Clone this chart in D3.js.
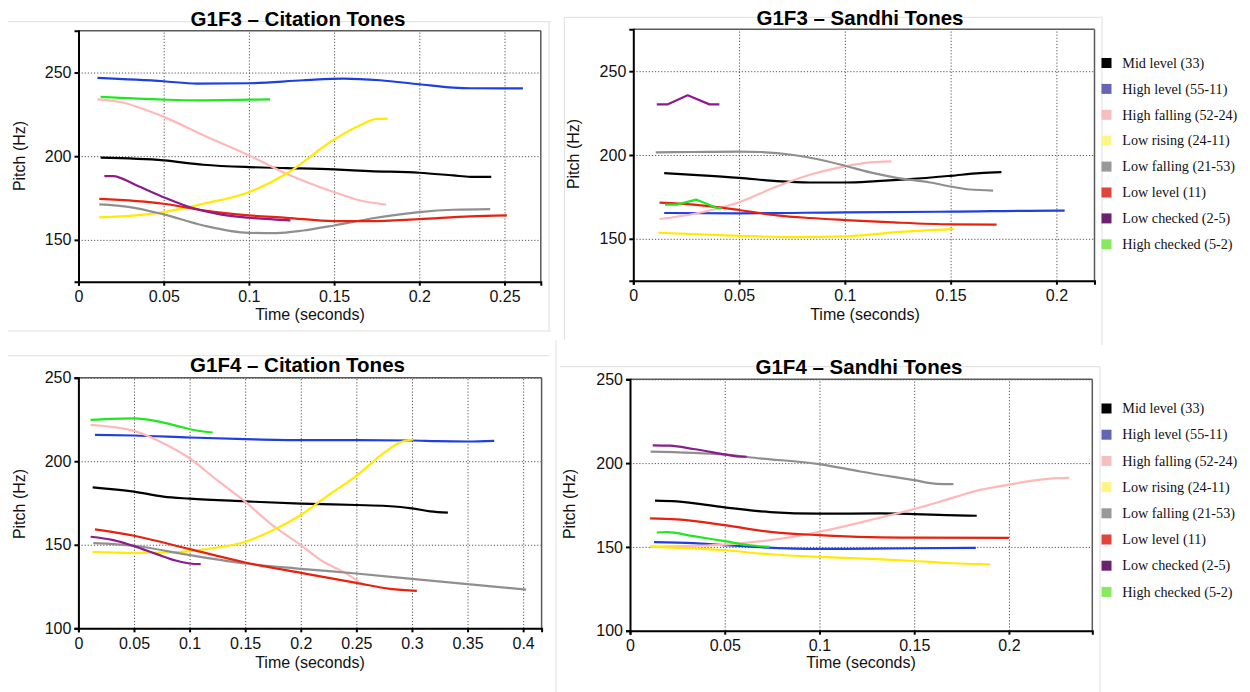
<!DOCTYPE html>
<html>
<head>
<meta charset="utf-8">
<script src="https://cdn.jsdelivr.net/npm/d3@7"></script>
<style>
  body { margin: 0; background: #fff; }
  svg { display: block; }
</style>
</head>
<body>
<svg id="chart" width="1250" height="692"></svg>
<script>
// Tone categories, in legend order
const toneNames = [
  "Mid level (33)", "High level (55-11)", "High falling (52-24)", "Low rising (24-11)",
  "Low falling (21-53)", "Low level (11)", "Low checked (2-5)", "High checked (5-2)"
];
const lineColors = ["#000000", "#1f3fe0", "#ffb8b8", "#ffea00", "#8f8f8f", "#e8200e", "#8a1c8c", "#1fe81f"];
const legendColors = ["#000000", "#6464b4", "#f4bfbf", "#fff587", "#999999", "#e0443a", "#6b2170", "#88e85e"];

// Pitch tracks: [time (s), pitch (Hz)] per tone, in toneNames order
const g1f3Citation = [
  [[0.013,199.1],[0.05,197.5],[0.0733,194.9],[0.1,193.5],[0.122,192.9],[0.15,192.1],[0.171,191.1],[0.2,190.1],[0.22,188.5],[0.23,187.7],[0.2422,187.7]],
  [[0.0111,246.8],[0.05,244.8],[0.0694,243.4],[0.1,243.6],[0.132,245.4],[0.1555,246.4],[0.177,245.4],[0.2,243],[0.22,241],[0.23,240.6],[0.25,240.5],[0.2608,240.5]],
  [[0.0111,234],[0.0244,232.4],[0.05,223.5],[0.0733,212.5],[0.1,200.5],[0.122,189.5],[0.15,178.5],[0.1653,173.5],[0.1805,171.1]],
  [[0.0122,163.4],[0.0342,164.6],[0.05,166.6],[0.0733,171.6],[0.1,178.5],[0.122,189.5],[0.15,210],[0.1653,218.5],[0.175,222.3],[0.1815,222.5]],
  [[0.0122,171.2],[0.0302,169.6],[0.05,165.2],[0.0733,158.6],[0.1,154.2],[0.1163,154],[0.132,155.6],[0.15,158.6],[0.171,162.6],[0.2,166.6],[0.22,168],[0.2416,168.4]],
  [[0.0122,174.5],[0.05,171.6],[0.0733,167.6],[0.1,164.6],[0.122,163.2],[0.15,161.2],[0.171,161.2],[0.2,162.4],[0.23,164],[0.2514,164.6]],
  [[0.0152,188.1],[0.0201,188.1],[0.0342,182.5],[0.05,175.5],[0.0655,169.5],[0.0831,165.2],[0.1,163.2],[0.1244,161.6]],
  [[0.013,235.4],[0.05,233.8],[0.0694,233.4],[0.1,233.8],[0.1124,234]]
];

const g1f3Sandhi = [
  [[0.0146,189.2],[0.0284,188.2],[0.05,186.4],[0.0678,184.4],[0.0835,183.6],[0.1,183.6],[0.115,184.4],[0.1308,185.6],[0.15,187.6],[0.1638,189.2],[0.174,189.8]],
  [[0.0146,165.4],[0.05,165.2],[0.1,165.8],[0.15,166.2],[0.2,166.8],[0.2039,166.8]],
  [[0.0124,161.8],[0.0284,164.8],[0.05,171.8],[0.0678,181.2],[0.0835,188.2],[0.1,193.2],[0.112,195.6],[0.122,196.2]],
  [[0.0119,153.6],[0.05,151.8],[0.0757,151],[0.1,151.4],[0.123,153.8],[0.1403,155.2],[0.1516,155.8]],
  [[0.0106,201.6],[0.0284,201.8],[0.05,202],[0.06,201.8],[0.0757,200],[0.0867,197.6],[0.1,193.6],[0.112,189.6],[0.1245,186.4],[0.1403,183.6],[0.15,181.2],[0.1591,179.4],[0.1701,178.8]],
  [[0.0124,171.6],[0.0284,170.4],[0.05,167.2],[0.0678,164],[0.0835,162.4],[0.1,161.2],[0.1229,159.8],[0.15,158.6],[0.1717,158.4]],
  [[0.0111,230.2],[0.0161,230.2],[0.0257,235.6],[0.036,230.2],[0.0407,230.2]],
  [[0.015,170.4],[0.0206,170.4],[0.0297,173.4],[0.0395,168.4],[0.0418,168.2]]
];

const g1f4Citation = [
  [[0.0128,184.4],[0.05,181.8],[0.0764,178.8],[0.1,177.6],[0.15,176],[0.2,174.6],[0.25,173.8],[0.2773,173.2],[0.3,171.8],[0.3164,170],[0.3323,169.2]],
  [[0.0149,215.8],[0.05,215.4],[0.1,214.2],[0.15,213.2],[0.2,212.6],[0.25,212.6],[0.3,212.4],[0.3223,212],[0.35,211.8],[0.374,212.2]],
  [[0.011,221.8],[0.05,218.2],[0.0764,210.8],[0.1,201.8],[0.1244,188.8],[0.15,175.8],[0.1724,162.8],[0.2,149.8],[0.2204,139.8],[0.2384,133.8],[0.252,128]],
  [[0.0128,145.8],[0.05,145.2],[0.0824,145.4],[0.1124,147.2],[0.15,151.8],[0.1754,158.8],[0.2,167.8],[0.2264,180.4],[0.25,191.2],[0.2744,204.8],[0.2894,211.4],[0.3013,213]],
  [[0.0134,151],[0.05,149.4],[0.1,143.8],[0.15,138.8],[0.2,135.6],[0.25,132.8],[0.3,129.6],[0.35,126.4],[0.4027,123.2]],
  [[0.0149,159.2],[0.05,155.4],[0.1,147.4],[0.15,139.4],[0.2,133.2],[0.25,127.2],[0.2804,123.6],[0.3044,122.4]],
  [[0.011,154.8],[0.0314,152.8],[0.05,149.2],[0.0704,144.4],[0.0884,140.4],[0.1,138.8],[0.11,138.4]],
  [[0.011,224.8],[0.0284,225.4],[0.05,225.6],[0.0704,224],[0.0884,221.2],[0.1064,218.4],[0.1208,217.2]]
];

const g1f4Sandhi = [
  [[0.0132,177.6],[0.0246,177.2],[0.05,173.6],[0.0739,170.8],[0.1,169.8],[0.1321,170],[0.15,169.6],[0.1672,169],[0.183,168.6]],
  [[0.0127,152.8],[0.0335,152.2],[0.05,151],[0.0687,149.8],[0.1,148.8],[0.1268,149],[0.15,149.2],[0.1825,149.4]],
  [[0.0106,150],[0.0335,150.6],[0.05,151.4],[0.0739,154],[0.1,159],[0.1268,166],[0.15,172.6],[0.1672,178.2],[0.1847,184],[0.2,187.2],[0.2146,189.8],[0.2251,191],[0.2318,191.2]],
  [[0.0106,150.2],[0.05,148],[0.0739,145.6],[0.1,144],[0.1268,142.8],[0.15,141.6],[0.1672,140.4],[0.19,139.6]],
  [[0.0109,206.8],[0.05,205],[0.0687,202.8],[0.1,199.4],[0.1215,195],[0.15,189.8],[0.162,187.6],[0.1707,187.4]],
  [[0.0106,167],[0.0246,166.4],[0.05,163],[0.0739,159],[0.1,157],[0.1268,155.8],[0.15,155.5],[0.2,155.4]],
  [[0.012,210.6],[0.0211,210.4],[0.0335,208.4],[0.05,205.2],[0.0563,204],[0.0616,203.8]],
  [[0.0141,158.6],[0.0194,158.8],[0.0335,156.4],[0.05,153.4],[0.0634,151],[0.0736,150]]
];

// Axis ticks
const g1f3PitchTicks = [150, 200, 250];
const g1f4PitchTicks = [100, 150, 200, 250];
const g1f3CitationTimeTicks = [0, 0.05, 0.1, 0.15, 0.2, 0.25];
const g1f3SandhiTimeTicks = [0, 0.05, 0.1, 0.15, 0.2];
const g1f4CitationTimeTicks = [0, 0.05, 0.1, 0.15, 0.2, 0.25, 0.3, 0.35, 0.4];
const g1f4SandhiTimeTicks = [0, 0.05, 0.1, 0.15, 0.2];

const SANS = "'Liberation Sans', Arial, Helvetica, sans-serif";
const SERIF = "'Liberation Serif', 'Times New Roman', serif";

const panels = [
  { title: "G1F3 – Citation Tones", series: g1f3Citation, xMax: 0.2713, yDomain: [125, 275],
    yTicks: g1f3PitchTicks, xTicks: g1f3CitationTimeTicks,
    left: 78.5, right: 540.8, top: 30.7, bottom: 281.7,
    titleX: 298, titleY: 26, xLabelX: 310, xLabelY: 320, yLabelX: 25, yLabelY: 156,
    angular: [], legendY: null },
  { title: "G1F3 – Sandhi Tones", series: g1f3Sandhi, xMax: 0.218, yDomain: [125, 275],
    yTicks: g1f3PitchTicks, xTicks: g1f3SandhiTimeTicks,
    left: 633.3, right: 1094.5, top: 29.3, bottom: 280.7,
    titleX: 860, titleY: 25, xLabelX: 865, xLabelY: 320, yLabelX: 579, yLabelY: 154,
    angular: [6, 7], legendY: 63, legendStep: 25.9 },
  { title: "G1F4 – Citation Tones", series: g1f4Citation, xMax: 0.4166, yDomain: [100, 250],
    yTicks: g1f4PitchTicks, xTicks: g1f4CitationTimeTicks,
    left: 78.4, right: 541.6, top: 377.7, bottom: 628.3,
    titleX: 297.5, titleY: 371.5, xLabelX: 310, xLabelY: 668, yLabelX: 25, yLabelY: 504,
    angular: [], legendY: null },
  { title: "G1F4 – Sandhi Tones", series: g1f4Sandhi, xMax: 0.244, yDomain: [100, 250],
    yTicks: g1f4PitchTicks, xTicks: g1f4SandhiTimeTicks,
    left: 630, right: 1092.3, top: 379.3, bottom: 630.7,
    titleX: 859, titleY: 374, xLabelX: 861, xLabelY: 668, yLabelX: 575, yLabelY: 504,
    angular: [], legendY: 408.5, legendStep: 26.2 }
];

const svg = d3.select("#chart");

// Faint frame lines around each exported figure
const frameLines = [
  [8, 21.7, 551, 21.7], [8, 331, 551, 331], [549, 21.7, 549, 331],
  [564.4, 17.3, 1102, 17.3], [564.4, 17.3, 564.4, 340], [1102, 17.3, 1102, 345],
  [8, 355.7, 549, 355.7], [556, 340, 556, 692],
  [560, 366.7, 1100, 366.7], [1100, 366.7, 1100, 692]
];
svg.append("g").selectAll("line").data(frameLines).join("line")
  .attr("x1", d => d[0]).attr("y1", d => d[1]).attr("x2", d => d[2]).attr("y2", d => d[3])
  .attr("stroke", "#dedede").attr("stroke-width", 1);

panels.forEach(p => {
  const g = svg.append("g");
  const x = d3.scaleLinear().domain([0, p.xMax]).range([p.left, p.right]);
  const y = d3.scaleLinear().domain(p.yDomain).range([p.bottom, p.top]);
  const w = p.right - p.left, h = p.bottom - p.top;

  // dotted grid
  const gridX = g.append("g").attr("transform", `translate(0,${p.bottom})`)
    .call(d3.axisBottom(x).tickValues(p.xTicks.filter(v => v > 0)).tickSize(-h).tickFormat(""));
  const gridY = g.append("g").attr("transform", `translate(${p.left},0)`)
    .call(d3.axisLeft(y).tickValues(p.yTicks).tickSize(-w).tickFormat(""));
  [gridX, gridY].forEach(a => {
    a.select(".domain").remove();
    a.selectAll("line").attr("stroke", "#555").attr("stroke-width", 1)
      .attr("stroke-dasharray", "1.2,1.9");
  });

  // pitch tracks
  p.series.forEach((pts, i) => {
    const line = d3.line()
      .x(d => x(d[0])).y(d => y(d[1]))
      .curve(p.angular.includes(i) ? d3.curveLinear : d3.curveMonotoneX);
    g.append("path").datum(pts)
      .attr("d", line)
      .attr("fill", "none")
      .attr("stroke", lineColors[i])
      .attr("stroke-width", 2.2)
      .attr("stroke-linejoin", "round")
      .attr("stroke-linecap", "butt");
  });

  // plot frame
  g.append("line").attr("x1", p.left).attr("x2", p.right).attr("y1", p.top).attr("y2", p.top)
    .attr("stroke", "#5a5a5a").attr("stroke-width", 1.5);
  g.append("line").attr("x1", p.right).attr("x2", p.right).attr("y1", p.top).attr("y2", p.bottom)
    .attr("stroke", "#5a5a5a").attr("stroke-width", 1.5);

  // axes
  const xAxis = g.append("g").attr("transform", `translate(0,${p.bottom})`)
    .call(d3.axisBottom(x).tickValues(p.xTicks).tickSize(4).tickPadding(5).tickFormat(d => String(d)));
  const yAxis = g.append("g").attr("transform", `translate(${p.left},0)`)
    .call(d3.axisLeft(y).tickValues(p.yTicks).tickSize(4).tickPadding(3).tickFormat(d3.format("d")));
  [xAxis, yAxis].forEach(a => {
    a.select(".domain").attr("stroke", "#000").attr("stroke-width", 2);
    a.selectAll(".tick line").attr("stroke", "#000").attr("stroke-width", 2);
    a.selectAll("text").attr("fill", "#111").style("font-family", SANS).style("font-size", "16px");
  });

  // titles and axis labels
  g.append("text").attr("x", p.titleX).attr("y", p.titleY).attr("text-anchor", "middle")
    .style("font-family", SANS).style("font-size", "20.5px").style("font-weight", "bold")
    .attr("fill", "#000").text(p.title);
  g.append("text").attr("x", p.xLabelX).attr("y", p.xLabelY).attr("text-anchor", "middle")
    .style("font-family", SANS).style("font-size", "16px").attr("fill", "#111")
    .text("Time (seconds)");
  g.append("text").attr("transform", `translate(${p.yLabelX},${p.yLabelY}) rotate(-90)`)
    .attr("text-anchor", "middle")
    .style("font-family", SANS).style("font-size", "16px").attr("fill", "#111")
    .text("Pitch (Hz)");

  // legend
  if (p.legendY !== null) {
    const lg = g.append("g");
    toneNames.forEach((name, i) => {
      const cy = p.legendY + i * p.legendStep;
      lg.append("rect").attr("x", 1101.5).attr("y", cy - 5).attr("width", 10).attr("height", 10)
        .attr("fill", legendColors[i]);
      lg.append("text").attr("x", 1122.3).attr("y", cy + 4.7)
        .style("font-family", SERIF).style("font-size", "14.2px").attr("fill", "#111")
        .text(name);
    });
  }
});
</script>
</body>
</html>
